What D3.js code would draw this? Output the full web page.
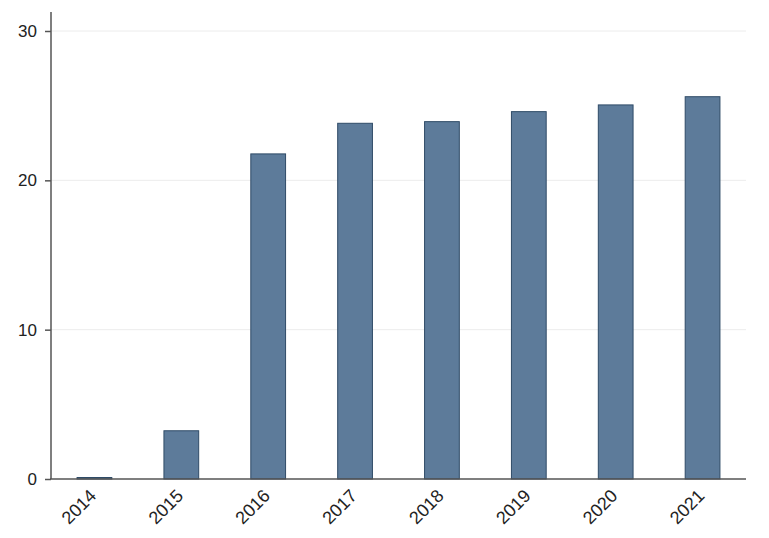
<!DOCTYPE html>
<html><head><meta charset="utf-8">
<script src="https://cdn.jsdelivr.net/npm/d3@7"></script>
<style>body{margin:0;background:#fff}svg{display:block}</style>
</head><body>
<svg id="c" width="769" height="538"></svg>
<script>
const years = ["2014","2015","2016","2017","2018","2019","2020","2021"];
const values = [0.1, 3.23, 21.77, 23.82, 23.93, 24.6, 25.05, 25.6];
const yTicks = [0, 10, 20, 30];

const svg = d3.select("#c");
const left = 51, right = 746, bottom = 479;
const x = d3.scaleBand().domain(years).range([left, right]).paddingInner(0.6).paddingOuter(0.3);
const y = d3.scaleLinear().domain([0, 30]).range([bottom, 31]);

// gridlines
svg.append("g").selectAll("line").data(yTicks.filter(d => d > 0)).join("line")
  .attr("x1", left).attr("x2", right)
  .attr("y1", d => y(d)).attr("y2", d => y(d))
  .attr("stroke", "#ececec").attr("stroke-width", 1);

// bars
svg.append("g").selectAll("rect").data(values).join("rect")
  .attr("x", (d, i) => x(years[i]))
  .attr("width", x.bandwidth())
  .attr("y", d => y(d))
  .attr("height", d => y(0) - y(d))
  .attr("fill", "#5d7b9a")
  .attr("stroke", "#2f4b67").attr("stroke-width", 1);

// y axis
const yAxis = svg.append("g").attr("transform", `translate(${left},0)`)
  .call(d3.axisLeft(y).tickValues(yTicks).tickSize(6).tickPadding(8).tickFormat(d3.format("d")));
yAxis.select(".domain").remove();
yAxis.append("line").attr("x1", 0).attr("x2", 0).attr("y1", 12).attr("y2", bottom)
  .attr("stroke", "#555").attr("stroke-width", 1.5);
yAxis.selectAll(".tick line").attr("stroke", "#555").attr("stroke-width", 1.5);
yAxis.selectAll(".tick text").attr("font-family", "Liberation Sans, Arial, sans-serif")
  .attr("font-size", 17).attr("fill", "#222");

// x axis
const xAxis = svg.append("g").attr("transform", `translate(0,${bottom})`)
  .call(d3.axisBottom(x).tickSize(0).tickPadding(0));
xAxis.select(".domain").remove();
xAxis.append("line").attr("x1", left - 1).attr("x2", right).attr("y1", 0).attr("y2", 0)
  .attr("stroke", "#555").attr("stroke-width", 1.5);
xAxis.selectAll(".tick text")
  .attr("font-family", "Liberation Sans, Arial, sans-serif")
  .attr("font-size", 18).attr("fill", "#222")
  .attr("text-anchor", "end")
  .attr("dy", null).attr("y", null)
  .attr("transform", "translate(3,18) rotate(-45)");
</script>
</body></html>
